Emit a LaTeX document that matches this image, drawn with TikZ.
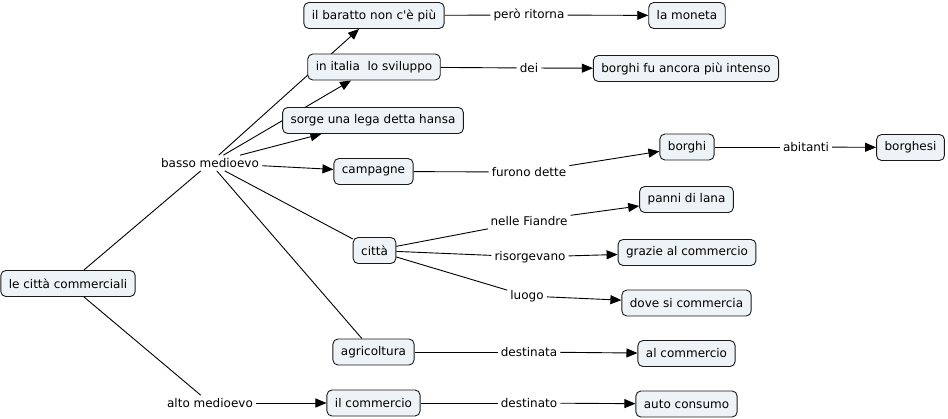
\documentclass[tikz,border=0pt]{standalone}
\usepackage{fontspec}
\setmainfont{DejaVu Sans}[Ligatures=TeXOff]
\usetikzlibrary{arrows.meta,backgrounds}
\definecolor{boxfill}{HTML}{EDF3F6}
\definecolor{boxline}{HTML}{1A1A1A}
\tikzset{
  concept/.style={draw=boxline, fill=boxfill, rounded corners=5pt, line width=0.9pt,
    minimum height=26pt, inner xsep=8pt, inner ysep=3pt, font=\fontsize{12}{14}\selectfont},
  linkphrase/.style={inner sep=3pt, font=\fontsize{12}{14}\selectfont},
  conn/.style={draw=black, line width=0.9pt},
  arr/.style={conn, -{Triangle[length=11pt,width=9pt]}},
}
\begin{document}
\begin{tikzpicture}[x=1pt,y=-1pt]
\useasboundingbox (0,0) rectangle (948,418);
% concepts
\node[concept] (baratto) at (374,15.5) {il baratto non c'è più};
\node[concept] (moneta) at (687,15.5) {la moneta};
\node[concept] (italia) at (374,67) {in italia\ \ lo sviluppo};
\node[concept] (borghiint) at (686,68.5) {borghi fu ancora più intenso};
\node[concept] (hansa) at (373,120.5) {sorge una lega detta hansa};
\node[concept] (campagne) at (373.5,171.5) {campagne};
\node[concept] (borghi) at (687,147) {borghi};
\node[concept] (borghesi) at (910.5,147.5) {borghesi};
\node[concept] (panni) at (686.5,199.5) {panni di lana};
\node[concept] (citta) at (374.5,250.5) {città};
\node[concept] (grazie) at (687,252.5) {grazie al commercio};
\node[concept] (dove) at (686.5,303) {dove si commercia};
\node[concept] (lcc) at (68,283.5) {le città commerciali};
\node[concept] (agri) at (373.5,352) {agricoltura};
\node[concept] (alcomm) at (686.5,353.5) {al commercio};
\node[concept] (ilcomm) at (373.5,403) {il commercio};
\node[concept] (auto) at (686.5,404) {auto consumo};
% linking phrases
\node[linkphrase] (pero) at (529,15) {però ritorna};
\node[linkphrase] (dei) at (529,68) {dei};
\node[linkphrase] (bm) at (210,163) {basso medioevo};
\node[linkphrase] (furono) at (529,172) {furono dette};
\node[linkphrase] (abitanti) at (806,147) {abitanti};
\node[linkphrase] (fiandre) at (529,221) {nelle Fiandre};
\node[linkphrase] (risorg) at (530,257) {risorgevano};
\node[linkphrase] (luogo) at (527,296) {luogo};
\node[linkphrase] (destinata) at (529,352) {destinata};
\node[linkphrase] (alto) at (210,403) {alto medioevo};
\node[linkphrase] (destinato) at (529,403) {destinato};
% connectors
\begin{pgfonlayer}{background}
\draw[conn] (lcc) -- (bm);
\draw[conn] (lcc) -- (alto);
\draw[arr] (alto) -- (ilcomm);
\draw[arr] (bm) -- (baratto);
\draw[arr] (bm) -- (italia);
\draw[arr] (bm) -- (hansa);
\draw[arr] (bm) -- (campagne);
\draw[conn] (bm) -- (citta);
\draw[conn] (bm) -- (agri);
\draw[conn] (baratto) -- (pero);
\draw[arr] (pero) -- (moneta);
\draw[conn] (italia) -- (dei);
\draw[arr] (dei) -- (borghiint);
\draw[conn] (campagne) -- (furono);
\draw[arr] (furono) -- (borghi);
\draw[conn] (borghi) -- (abitanti);
\draw[arr] (abitanti) -- (borghesi);
\draw[conn] (citta) -- (fiandre);
\draw[arr] (fiandre) -- (panni);
\draw[conn] (citta) -- (risorg);
\draw[arr] (risorg) -- (grazie);
\draw[conn] (citta) -- (luogo);
\draw[arr] (luogo) -- (dove);
\draw[conn] (agri) -- (destinata);
\draw[arr] (destinata) -- (alcomm);
\draw[conn] (ilcomm) -- (destinato);
\draw[arr] (destinato) -- (auto);
\end{pgfonlayer}
\end{tikzpicture}
\end{document}
